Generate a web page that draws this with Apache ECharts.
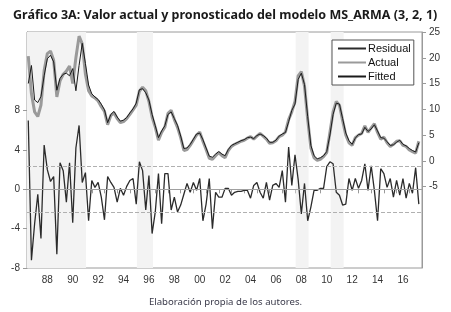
<!DOCTYPE html>
<html>
<head>
<meta charset="utf-8">
<script src="https://cdn.jsdelivr.net/npm/echarts@6/dist/echarts.min.js"></script>
<style>
html, body { margin: 0; padding: 0; background: #fff; }
#chart { width: 451px; height: 312px; }
</style>
</head>
<body>
<div id="chart"></div>
<script>
// quarterly data, 1987Q1 - 2017Q4
var startYear = 1987;

var actual = [
    20.3, 13.0, 9.5, 8.6,
    10.8, 17.5, 20.8, 21.3,
    19.5, 12.4, 15.5, 16.8,
    17.4, 18.4, 15.0, 20.0,
    24.2, 22.7, 16.8, 13.6,
    12.6, 12.2, 11.6, 10.5,
    9.6, 7.0, 8.8, 9.3,
    8.2, 7.4, 7.6, 8.2,
    9.0, 9.9, 10.8, 13.5,
    14.3, 13.6, 11.5, 8.5,
    6.5, 4.0, 5.5, 6.5,
    9.2, 9.8, 8.0, 6.5,
    4.5, 2.0, 2.2, 3.0,
    4.0, 5.0, 5.6, 3.8,
    2.2, 0.5, 0.3, 1.0,
    1.6, 1.0, 0.6, 2.0,
    2.8, 3.2, 3.5, 3.8,
    4.0, 4.4, 4.7, 4.2,
    4.8, 5.3, 4.8, 4.2,
    3.4, 3.5, 3.9, 4.7,
    5.0, 5.6, 8.0, 9.5,
    11.5, 16.5, 17.3, 14.5,
    8.0, 2.5, 0.6, 0.1,
    0.3, 0.8, 1.6, 5.5,
    9.5, 11.5, 10.8, 7.8,
    5.0, 3.5, 3.0, 4.5,
    5.0, 5.3, 6.8, 5.5,
    6.4, 7.2, 5.5, 4.2,
    4.6, 3.5, 2.8, 3.2,
    3.8, 3.9, 3.0, 2.8,
    2.1, 1.8, 1.5, 3.8
];

var fitted = [
    15.0, 18.5, 11.8, 11.3,
    12.5, 16.5, 19.8, 20.5,
    19.2, 13.7, 16.0, 16.8,
    17.0, 16.5, 17.9, 13.6,
    18.5, 22.8, 18.9, 14.7,
    13.0, 12.4, 11.9, 11.0,
    9.9, 7.4, 9.0, 9.6,
    8.5, 7.7, 7.9, 8.4,
    9.3, 10.1, 11.2, 13.8,
    14.0, 13.2, 11.8, 9.0,
    6.8, 4.5, 5.8, 6.8,
    9.0, 9.5, 8.2, 6.9,
    4.8, 2.4, 2.5, 3.2,
    4.2, 5.2, 5.4, 4.1,
    2.5, 0.9, 0.7, 1.3,
    1.8, 1.3, 1.0, 2.2,
    3.0, 3.3, 3.6, 3.9,
    4.1, 4.5, 4.6, 4.3,
    4.9, 5.2, 4.9, 4.4,
    3.6, 3.6, 4.0, 4.8,
    5.2, 5.5, 7.6, 9.8,
    11.0, 15.8, 17.0, 14.8,
    8.6, 3.0, 1.0, 0.4,
    0.6, 1.0, 1.8, 5.0,
    9.0, 11.2, 11.0, 8.2,
    5.4, 3.9, 3.2, 4.4,
    5.1, 5.2, 6.5, 5.7,
    6.2, 7.0, 5.8, 4.5,
    4.4, 3.7, 3.0, 3.1,
    3.6, 4.0, 3.2, 2.9,
    2.4, 2.0, 1.7, 3.5
];

var residual = [
    7.0, -7.2, -3.5, -0.5,
    -5.0, 4.5, 2.0, 0.8,
    1.3, -6.6, 2.7, 1.9,
    -1.3, 2.7, -3.4, 4.2,
    6.5, 0.7, 1.7, -3.2,
    0.9, 0.2, 0.7, -0.8,
    -3.1, 1.3, 0.7, 0.2,
    -1.3, 0.1, -0.6, 0.3,
    0.9, 1.1, -1.5, 2.8,
    1.9, -2.1, 1.4, -4.5,
    -2.3, 1.6, -3.5, 1.6,
    1.6, -2.1, -0.8, -2.3,
    -1.6, -0.5, 0.6, -0.3,
    0.7, -0.1, 1.1, -3.2,
    -1.5, 1.1, -4.0, -0.3,
    -0.8, -0.8, 0.1, 0.1,
    -0.6, -0.3, -0.2, -0.2,
    -0.1, -0.1, -0.9, 0.4,
    0.7, -0.3, -0.9, 0.7,
    -1.1, 0.4, 0.6, 0.2,
    1.9, -1.3, 4.3, 0.4,
    3.5, 1.0, -2.5, 0.6,
    -3.2, -1.8, -0.1, -0.1,
    0.1, 0.1, 2.3, 2.8,
    2.6, -0.3, -0.6, -1.6,
    -1.5, 1.1, -0.1, 1.1,
    0.1, 0.9, 2.6, -0.1,
    2.4, -0.1, -3.2, 2.1,
    1.6, 0.2, 1.1, -0.8,
    0.9, -0.6, 1.1, -0.9,
    0.6, -0.4, 2.2, -1.5
];

// +/- 1 S.E. band of the residual
var residualSE = 2.37;

// shaded periods (decimal years)
var shaded = [
    [1986.9, 1991.55],
    [1995.55, 1996.82],
    [2008.05, 2009.07],
    [2010.81, 2011.83]
];

var yearTicks = [];
for (var y = 1987; y <= 2018; y++) yearTicks.push(y);
var labelYears = [1988, 1990, 1992, 1994, 1996, 1998, 2000, 2002, 2004, 2006, 2008, 2010, 2012, 2014, 2016];
var leftTicks = [-8, -4, 0, 4, 8];
var rightTicks = [-5, 0, 5, 10, 15, 20, 25];

function toPoints(arr) {
    return arr.map(function (v, i) { return [startYear + i / 4, v]; });
}

var dom = document.getElementById('chart');
var myChart = echarts.init(dom, null, { renderer: 'canvas' });

var axisGrey = '#9a9a9a';
var labelStyle = { color: '#333', fontSize: 10, fontFamily: 'Liberation Sans, Arial, sans-serif' };

var option = {
    animation: false,
    backgroundColor: '#fff',
    title: [{
        text: 'Gráfico 3A: Valor actual y pronosticado del modelo MS_ARMA (3, 2, 1)',
        left: 8,
        top: 4,
        textStyle: { fontSize: 12.5, fontWeight: 'bold', color: '#1a1a1a', fontFamily: 'Noto Sans, sans-serif' }
    }, {
        text: 'Elaboración propia de los autores.',
        left: 'center',
        top: 292,
        textStyle: { fontSize: 9.6, fontWeight: 'normal', color: '#3a3a4a', fontFamily: 'Noto Sans, sans-serif' }
    }],
    grid: {
        left: 27, right: 29, top: 32, bottom: 44,
        show: true, borderColor: axisGrey, borderWidth: 1, backgroundColor: '#fff'
    },
    legend: {
        orient: 'vertical',
        left: 332,
        top: 40,
        data: ['Residual', 'Actual', 'Fitted'],
        itemWidth: 28,
        itemHeight: 10,
        itemGap: 3,
        padding: [3, 3, 3, 5],
        borderColor: '#555',
        borderWidth: 1,
        backgroundColor: '#fff',
        itemStyle: { opacity: 0 },
        textStyle: { fontSize: 11, color: '#111', fontFamily: 'Liberation Sans, Arial, sans-serif', padding: [0, 0, 0, -3] }
    },
    xAxis: {
        type: 'value',
        min: 1986.9,
        max: 2018,
        axisLine: { lineStyle: { color: axisGrey } },
        axisTick: { show: true, length: 4, customValues: yearTicks, lineStyle: { color: axisGrey } },
        axisLabel: Object.assign({
            customValues: labelYears.map(function (y) { return y + 0.5; }),
            margin: 7,
            formatter: function (v) { var s = String(Math.floor(v) % 100); return s.length < 2 ? '0' + s : s; }
        }, labelStyle),
        splitLine: { show: false }
    },
    yAxis: [{
        type: 'value',
        position: 'left',
        min: -8,
        max: 16,
        axisLine: { show: true, lineStyle: { color: axisGrey } },
        axisTick: { show: true, length: 4, customValues: leftTicks, lineStyle: { color: axisGrey } },
        axisLabel: Object.assign({ customValues: leftTicks, margin: 7 }, labelStyle),
        splitLine: { show: false }
    }, {
        type: 'value',
        position: 'right',
        min: -20.8,
        max: 25,
        axisLine: { show: true, lineStyle: { color: axisGrey } },
        axisTick: { show: true, length: 4, customValues: rightTicks, lineStyle: { color: axisGrey } },
        axisLabel: Object.assign({ customValues: rightTicks, margin: 7 }, labelStyle),
        splitLine: { show: false }
    }],
    series: [{
        name: 'ref',
        type: 'line',
        yAxisIndex: 0,
        z: 1,
        silent: true,
        symbol: 'none',
        data: toPoints(residual),
        lineStyle: { opacity: 0 },
        markLine: {
            silent: true,
            symbol: 'none',
            label: { show: false },
            data: [
                { yAxis: 0, lineStyle: { color: '#a0a0a0', width: 1.2, type: 'solid' } },
                { yAxis: residualSE, lineStyle: { color: '#b0b0b0', width: 1, type: [4, 2] } },
                { yAxis: -residualSE, lineStyle: { color: '#b0b0b0', width: 1, type: [4, 2] } }
            ]
        }
    }, {
        name: 'Residual',
        type: 'line',
        yAxisIndex: 0,
        z: 2,
        symbol: 'none',
        data: toPoints(residual),
        lineStyle: { color: '#2b2b2b', width: 1.3 },
        itemStyle: { color: '#2b2b2b' },
        markArea: {
            silent: true,
            itemStyle: { color: '#f3f3f3' },
            data: shaded.map(function (s) { return [{ xAxis: s[0] }, { xAxis: s[1] }]; })
        }
    }, {
        name: 'Actual',
        type: 'line',
        yAxisIndex: 1,
        z: 3,
        symbol: 'none',
        data: toPoints(actual),
        lineStyle: { color: '#9a9a9a', width: 3 },
        itemStyle: { color: '#9a9a9a' }
    }, {
        name: 'Fitted',
        type: 'line',
        yAxisIndex: 1,
        z: 4,
        symbol: 'none',
        data: toPoints(fitted),
        lineStyle: { color: '#1a1a1a', width: 1 },
        itemStyle: { color: '#1a1a1a' }
    }]
};

if (option && typeof option === 'object') {
    myChart.setOption(option, true);
}
</script>
</body>
</html>
